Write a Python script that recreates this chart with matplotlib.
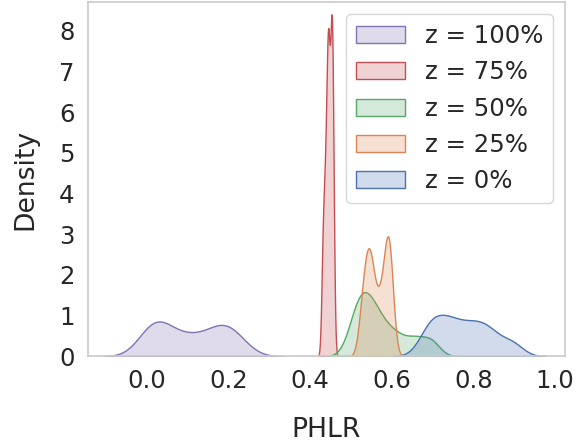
import matplotlib
matplotlib.use("Agg")
import matplotlib.pyplot as plt
import numpy as np
import seaborn as sns

# stile seaborn con caratteri grandi
sns.set_theme(style="whitegrid", font_scale=1.6)

# campioni PHLR stimati per ogni livello di z
phlr_0 = [0.685, 0.70, 0.718, 0.74, 0.756, 0.783, 0.804, 0.826, 0.85, 0.895]
phlr_25 = [0.527, 0.537, 0.543, 0.549, 0.558, 0.572, 0.583, 0.59, 0.594, 0.598]
phlr_50 = [0.505, 0.518, 0.528, 0.538, 0.55, 0.565, 0.585, 0.615, 0.655, 0.695]
phlr_75 = [0.431, 0.436, 0.440, 0.443, 0.445, 0.446, 0.451, 0.453, 0.454, 0.456]
phlr_100 = [0.005, 0.012, 0.028, 0.048, 0.085, 0.12, 0.16, 0.182, 0.2, 0.222]

# ordine di disegno come seaborn (hue invertito) e etichette della legenda
groups = [phlr_100, phlr_75, phlr_50, phlr_25, phlr_0]
labels = ["z = 100%", "z = 75%", "z = 50%", "z = 25%", "z = 0%"]
bandwidths = [0.037, 0.0036, 0.022, 0.0097, 0.027]

palette = sns.color_palette("deep")
colors = [palette[4], palette[3], palette[2], palette[1], palette[0]]

n_total = sum(len(g) for g in groups)

fig, ax = plt.subplots(figsize=(5.85, 4.43), dpi=100)
fig.subplots_adjust(left=0.150, right=0.966, top=0.995, bottom=0.196)

for data, bw, color, label in zip(groups, bandwidths, colors, labels):
    data = np.asarray(data)
    # supporto come seaborn: cut = 3 bandwidth
    grid = np.linspace(data.min() - 3 * bw, data.max() + 3 * bw, 200)
    dens = np.exp(-0.5 * ((grid[:, None] - data[None, :]) / bw) ** 2).sum(axis=1)
    dens = dens / (bw * np.sqrt(2 * np.pi)) / n_total
    ax.fill_between(grid, dens, facecolor=matplotlib.colors.to_rgba(color, 0.25),
                    edgecolor=color, linewidth=1.0, label=label)

ax.set_xlim(-0.145, 1.025)
ax.set_ylim(0, 8.7)
ax.set_yticks(range(0, 9))
ax.grid(False)
ax.set_xlabel("PHLR", labelpad=17)
ax.set_ylabel("Density", labelpad=15)
ax.legend(loc="upper right")

fig.savefig("out.png", dpi=100)
